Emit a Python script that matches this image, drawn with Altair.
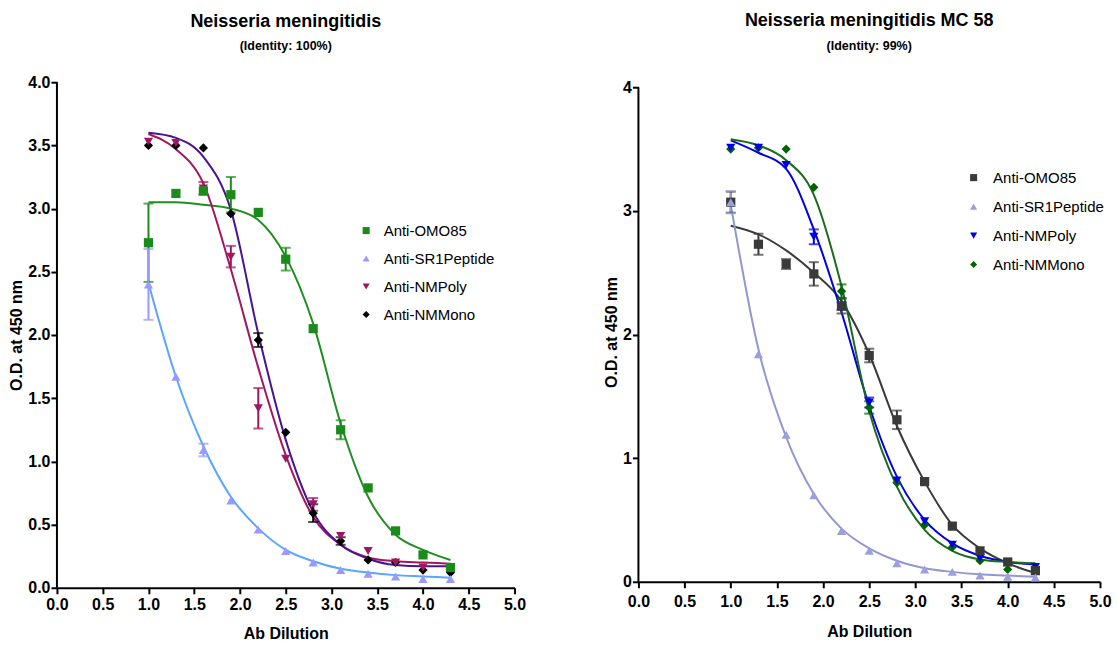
import altair as alt
import pandas as pd

X = [1.0, 1.3, 1.6, 1.9, 2.2, 2.5, 2.8, 3.1, 3.4, 3.7, 4.0, 4.3]
SERIES = ["Anti-OMO85", "Anti-SR1Peptide", "Anti-NMPoly", "Anti-NMMono"]
SHAPES = ["square", "triangle-up", "triangle-down", "diamond"]

# ---- Left panel: Neisseria meningitidis (Identity 100%) ----
L_OMO = [2.73, 3.12, 3.14, 3.11, 2.97, 2.60, 2.05, 1.25, 0.79, 0.45, 0.26, 0.16]
L_OMO_ERR = [0.31, 0, 0, 0.14, 0, 0.09, 0, 0.075, 0, 0, 0, 0]
L_SR1 = [2.40, 1.67, 1.09, 0.69, 0.46, 0.29, 0.20, 0.14, 0.11, 0.09, 0.07, 0.07]
L_SR1_ERR = [0.28, 0, 0.05, 0, 0, 0, 0, 0, 0, 0, 0, 0]
L_POLY = [3.53, 3.52, 3.16, 2.62, 1.42, 1.02, 0.66, 0.41, 0.29, 0.20, 0.16, 0.15]
L_POLY_ERR = [0, 0, 0.05, 0.085, 0.16, 0, 0.05, 0, 0, 0, 0, 0]
L_MONO = [3.50, 3.50, 3.48, 2.96, 1.96, 1.23, 0.59, 0.37, 0.22, 0.20, 0.14, 0.12]
L_MONO_ERR = [0, 0, 0, 0, 0.055, 0, 0.07, 0.03, 0, 0, 0, 0]

L_OMO_FIT = [3.05, 3.05, 3.03, 3.00, 2.91, 2.62, 2.09, 1.30, 0.72, 0.42, 0.30, 0.22]
L_SR1_FIT = [2.41, 1.67, 1.12, 0.72, 0.47, 0.30, 0.21, 0.15, 0.12, 0.10, 0.09, 0.08]
L_POLY_FIT = [3.59, 3.47, 3.20, 2.52, 1.74, 1.05, 0.56, 0.34, 0.24, 0.21, 0.20, 0.19]
L_MONO_FIT = [3.60, 3.56, 3.41, 2.99, 2.01, 1.17, 0.60, 0.34, 0.23, 0.18, 0.17, 0.17]

L_MARKER_COLORS = ["#1b8c1b", "#9999ff", "#a0175f", "#000000"]
L_LINE_COLORS = ["#1f8f1f", "#5aa5ff", "#a0175f", "#4a1490"]

# ---- Right panel: Neisseria meningitidis MC58 (Identity 99%) ----
R_OMO = [3.07, 2.73, 2.57, 2.49, 2.23, 1.83, 1.31, 0.81, 0.45, 0.25, 0.16, 0.09]
R_OMO_ERR = [0.085, 0.085, 0.04, 0.095, 0.06, 0.055, 0.075, 0, 0, 0, 0, 0]
R_SR1 = [3.07, 1.84, 1.19, 0.70, 0.41, 0.25, 0.15, 0.10, 0.08, 0.05, 0.04, 0.035]
R_SR1_ERR = [0.09, 0, 0, 0, 0, 0, 0, 0, 0, 0, 0, 0]
R_POLY = [3.51, 3.51, 3.37, 2.79, 2.23, 1.45, 0.82, 0.49, 0.30, 0.19, 0.15, 0.12]
R_POLY_ERR = [0, 0, 0, 0.06, 0.03, 0.04, 0, 0, 0, 0, 0, 0]
R_MONO = [3.50, 3.51, 3.50, 3.19, 2.35, 1.41, 0.80, 0.46, 0.28, 0.17, 0.10, 0.08]
R_MONO_ERR = [0, 0, 0, 0, 0.055, 0.05, 0, 0, 0, 0, 0, 0]

R_OMO_FIT = [2.88, 2.81, 2.68, 2.50, 2.27, 1.84, 1.26, 0.81, 0.46, 0.27, 0.15, 0.07]
R_SR1_FIT = [3.05, 1.88, 1.17, 0.71, 0.43, 0.27, 0.17, 0.11, 0.08, 0.06, 0.05, 0.04]
R_POLY_FIT = [3.57, 3.47, 3.34, 2.85, 2.18, 1.42, 0.85, 0.50, 0.31, 0.21, 0.16, 0.14]
R_MONO_FIT = [3.58, 3.53, 3.41, 3.13, 2.39, 1.38, 0.77, 0.42, 0.25, 0.18, 0.16, 0.15]

R_MARKER_COLORS = ["#3a3a3a", "#9aa0dc", "#0000e6", "#006400"]
R_LINE_COLORS = ["#3a3a3a", "#9397d0", "#0000e6", "#1a6b1a"]

X_TICKS = [0.0, 0.5, 1.0, 1.5, 2.0, 2.5, 3.0, 3.5, 4.0, 4.5, 5.0]
L_Y_TICKS = [0.0, 0.5, 1.0, 1.5, 2.0, 2.5, 3.0, 3.5, 4.0]
R_Y_TICKS = [0, 1, 2, 3, 4]
Y_AXIS_SPAN = [0, 4]

FONT = "Liberation Sans"


def panel(title, subtitle, values, errors, fits, mcolors, lcolors, yticks, yfmt,
          width, height, ymax, lx, ly, loff, rowpad, toffset, spad, xlpad, xtpad):
    pts, fit = [], []
    for s, ys, es, fs in zip(SERIES, values, errors, fits):
        for x, y, e, f in zip(X, ys, es, fs):
            pts.append(dict(series=s, x=x, y=y, lo=y - e, hi=y + e, err=e))
            fit.append(dict(series=s, x=x, y=f))
    pts = pd.DataFrame(pts)
    fit = pd.DataFrame(fit)
    span = pd.DataFrame({"y0": [Y_AXIS_SPAN[0]], "y1": [Y_AXIS_SPAN[1]]})

    xenc = alt.X("x:Q", scale=alt.Scale(domain=[0, 5], nice=False, zero=False),
                 axis=alt.Axis(values=X_TICKS, format=".1f", title="Ab Dilution",
                               labelPadding=xlpad, titlePadding=xtpad))
    ysc = alt.Scale(domain=[0, ymax], nice=False)
    yax = alt.Axis(values=yticks, format=yfmt, title="O.D.  at  450 nm", domain=False)

    yline = alt.Chart(span).mark_rule(strokeWidth=2, color="black").encode(
        x=alt.value(0), y=alt.Y("y0:Q", scale=ysc, axis=yax), y2="y1:Q")
    lines = alt.Chart(fit).mark_line(strokeWidth=2, interpolate="monotone").encode(
        x=xenc,
        y=alt.Y("y:Q", scale=ysc, axis=yax),
        stroke=alt.Stroke("series:N", scale=alt.Scale(domain=SERIES, range=lcolors), legend=None),
        detail="series:N",
    )
    errbase = alt.Chart(pts).transform_filter("datum.err > 0")
    ecol = alt.Color("series:N", scale=alt.Scale(domain=SERIES, range=mcolors), legend=None)
    rules = errbase.mark_rule(strokeWidth=2).encode(
        x=xenc, y=alt.Y("lo:Q", scale=ysc, axis=yax), y2="hi:Q", color=ecol)
    cap_hi = errbase.mark_tick(orient="horizontal", size=10, thickness=2).encode(
        x=xenc, y=alt.Y("hi:Q", scale=ysc, axis=yax), color=ecol)
    cap_lo = errbase.mark_tick(orient="horizontal", size=10, thickness=2).encode(
        x=xenc, y=alt.Y("lo:Q", scale=ysc, axis=yax), color=ecol)

    leg = alt.Legend(title=None, orient="none", legendX=lx, legendY=ly,
                     labelFont=FONT, labelFontSize=15, labelColor="black",
                     symbolSize=50, rowPadding=rowpad, labelOffset=loff,
                     symbolStrokeWidth=0)
    points = alt.Chart(pts).mark_point(filled=True, opacity=1, size=85, strokeWidth=0).encode(
        x=xenc,
        y=alt.Y("y:Q", scale=ysc, axis=yax),
        fill=alt.Fill("series:N", scale=alt.Scale(domain=SERIES, range=mcolors), legend=leg),
        shape=alt.Shape("series:N", scale=alt.Scale(domain=SERIES, range=SHAPES), legend=leg),
        order=alt.Order("series:N"),
    )
    return alt.layer(yline, lines, rules, cap_hi, cap_lo, points).resolve_scale(
        color="independent", stroke="independent"
    ).properties(
        width=width, height=height,
        title=alt.TitleParams(text=title, subtitle=subtitle, anchor="middle", frame="group",
                              font=FONT, fontSize=18, fontWeight="bold", color="black",
                              subtitleFont=FONT, subtitleFontSize=12.5,
                              subtitleFontWeight="bold", subtitleColor="black",
                              subtitlePadding=spad, offset=toffset),
    )


left = panel("Neisseria meningitidis", "(Identity: 100%)",
             [L_OMO, L_SR1, L_POLY, L_MONO],
             [L_OMO_ERR, L_SR1_ERR, L_POLY_ERR, L_MONO_ERR],
             [L_OMO_FIT, L_SR1_FIT, L_POLY_FIT, L_MONO_FIT],
             L_MARKER_COLORS, L_LINE_COLORS, L_Y_TICKS, ".1f",
             458, 506, 4.0, 302, 141, 10, 12, 22, 9, 3, 13)
right = panel("Neisseria meningitidis MC 58", "(Identity: 99%)",
              [R_OMO, R_SR1, R_POLY, R_MONO],
              [R_OMO_ERR, R_SR1_ERR, R_POLY_ERR, R_MONO_ERR],
              [R_OMO_FIT, R_SR1_FIT, R_POLY_FIT, R_MONO_FIT],
              R_MARKER_COLORS, R_LINE_COLORS, R_Y_TICKS, "d",
              462, 500, 4.0 * 500 / 495, 328, 88, 12, 13, 27, 10, 6, 14)

chart = alt.hconcat(left, right, spacing=77).resolve_scale(
    fill="independent", shape="independent", color="independent",
    stroke="independent", x="independent", y="independent"
).resolve_legend(fill="independent", shape="independent").properties(
    padding={"left": 8, "top": 11, "right": 5, "bottom": 5}
).configure_view(stroke=None).configure_axis(
    grid=False, domainColor="black", domainWidth=2, tickColor="black", tickWidth=2,
    tickSize=6, labelFont=FONT, labelFontSize=16, labelFontWeight="bold",
    labelColor="black", labelPadding=1, labelFlush=False, titleFont=FONT, titleFontSize=16,
    titleFontWeight="bold", titleColor="black", titlePadding=3,
)

chart.save("out.html", embed_options={"renderer": "svg", "actions": False})
